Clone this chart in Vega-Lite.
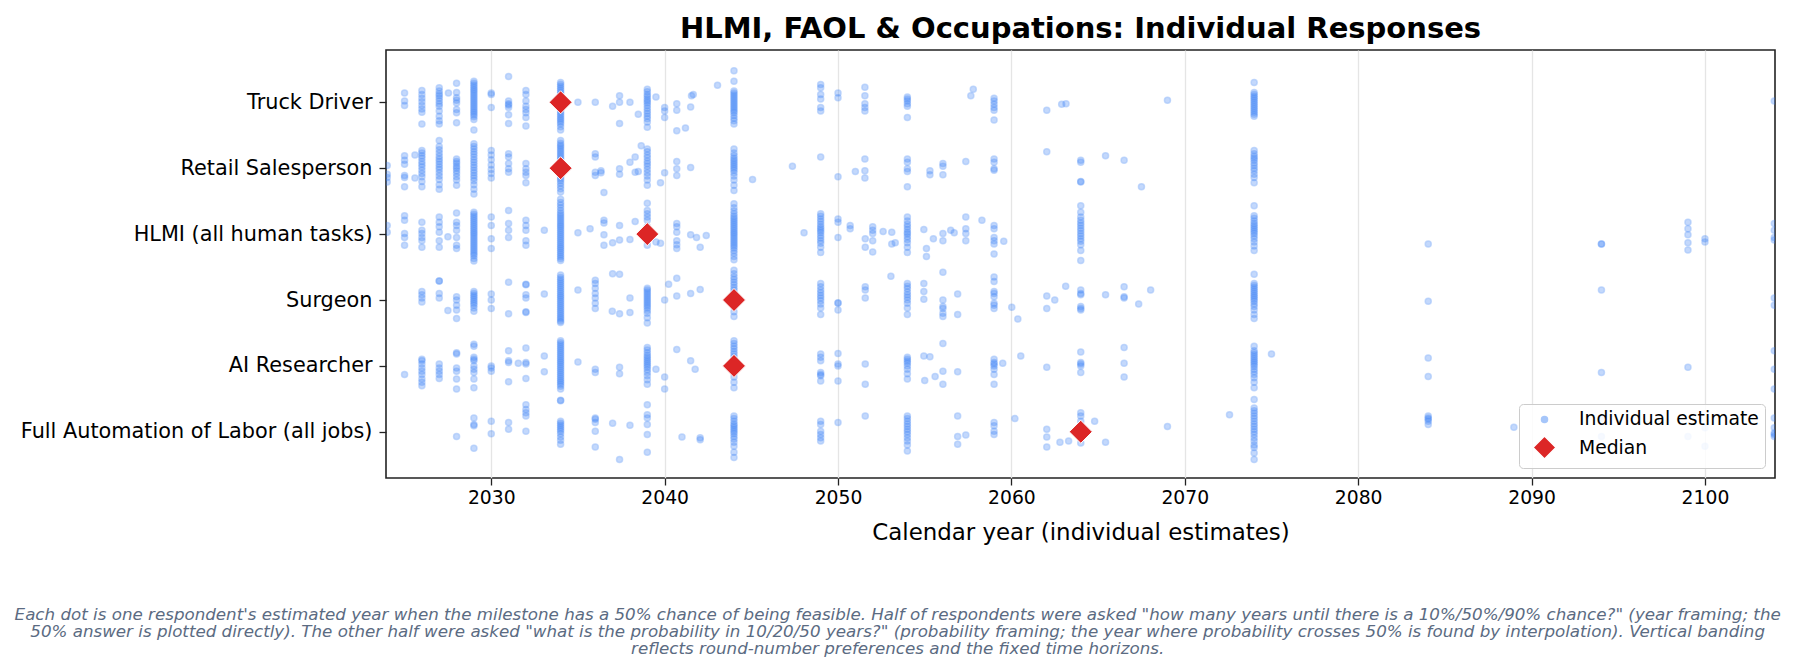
{
"$schema": "https://vega.github.io/schema/vega-lite/v6.json",
"padding": {"left": 14, "top": 14, "right": 10, "bottom": 5},
"config": {
  "font": "DejaVu Sans",
  "view": {"stroke": "#222222", "strokeWidth": 1.6},
  "axis": {"labelFont": "DejaVu Sans", "titleFont": "DejaVu Sans", "labelColor": "#000000", "titleColor": "#000000", "tickColor": "#222222", "tickWidth": 1.3, "tickSize": 7, "domain": false, "titleFontWeight": "normal"},
  "legend": {"orient": "bottom-right", "offset": 10, "fillColor": "rgba(255,255,255,0.85)", "strokeColor": "#cccccc", "cornerRadius": 4, "padding": 6, "symbolOffset": 7, "labelFontSize": 18.75, "labelFont": "DejaVu Sans", "labelColor": "#000000", "labelOffset": 22, "labelLimit": 400, "rowPadding": 3, "symbolStrokeWidth": 1.5}
},
"resolve": {"scale": {"color": "independent", "shape": "independent", "size": "independent", "opacity": "independent", "stroke": "independent"}, "legend": {"color": "independent", "shape": "independent", "size": "independent", "opacity": "independent", "stroke": "independent"}},
"datasets": {
"truck": [
{"x":2025,"j":0.14},{"x":2025,"j":0.02},{"x":2025,"j":-0.05},
{"x":2026,"j":0.18},{"x":2026,"j":0.12},{"x":2026,"j":0.06},{"x":2026,"j":0.01},{"x":2026,"j":-0.05},{"x":2026,"j":-0.10},{"x":2026,"j":-0.15},{"x":2026,"j":-0.33},
{"x":2027,"j":0.22},{"x":2027,"j":0.17},{"x":2027,"j":0.13},{"x":2027,"j":0.10},{"x":2027,"j":0.06},{"x":2027,"j":0.02},{"x":2027,"j":-0.02},{"x":2027,"j":-0.06},{"x":2027,"j":-0.13},{"x":2027,"j":-0.21},{"x":2027,"j":-0.28},{"x":2027,"j":-0.33},
{"x":2027.53,"j":0.14},
{"x":2028,"j":0.29},{"x":2028,"j":0.15},{"x":2028,"j":0.07},{"x":2028,"j":0.03},{"x":2028,"j":-0.01},{"x":2028,"j":-0.11},{"x":2028,"j":-0.16},{"x":2028,"j":-0.31},
{"x":2029,"j":0.32},{"x":2029,"j":0.29},{"x":2029,"j":0.26},{"x":2029,"j":0.23},{"x":2029,"j":0.2},{"x":2029,"j":0.17},{"x":2029,"j":0.14},{"x":2029,"j":0.11},{"x":2029,"j":0.08},{"x":2029,"j":0.05},{"x":2029,"j":0.02},{"x":2029,"j":-0.01},{"x":2029,"j":-0.04},{"x":2029,"j":-0.07},{"x":2029,"j":-0.1},{"x":2029,"j":-0.13},{"x":2029,"j":-0.16},{"x":2029,"j":-0.19},{"x":2029,"j":-0.22},{"x":2029,"j":-0.26},{"x":2029,"j":-0.42},
{"x":2030,"j":0.14},{"x":2030,"j":0.12},{"x":2030,"j":-0.08},
{"x":2031,"j":0.39},{"x":2031,"j":0.02},{"x":2031,"j":-0.02},{"x":2031,"j":-0.04},{"x":2031,"j":-0.08},{"x":2031,"j":-0.19},{"x":2031,"j":-0.32},
{"x":2032,"j":0.18},{"x":2032,"j":0.12},{"x":2032,"j":0.02},{"x":2032,"j":-0.06},{"x":2032,"j":-0.11},{"x":2032,"j":-0.16},{"x":2032,"j":-0.23},{"x":2032,"j":-0.36},
{"x":2034,"j":0.3},{"x":2034,"j":0.27},{"x":2034,"j":0.24},{"x":2034,"j":0.21},{"x":2034,"j":0.18},{"x":2034,"j":0.15},{"x":2034,"j":0.12},{"x":2034,"j":0.09},{"x":2034,"j":0.06},{"x":2034,"j":0.03},{"x":2034,"j":0.0},{"x":2034,"j":-0.03},{"x":2034,"j":-0.06},{"x":2034,"j":-0.09},{"x":2034,"j":-0.12},{"x":2034,"j":-0.15},{"x":2034,"j":-0.18},{"x":2034,"j":-0.21},{"x":2034,"j":-0.24},{"x":2034,"j":-0.27},{"x":2034,"j":-0.3},{"x":2034,"j":-0.33},{"x":2034,"j":-0.37},{"x":2034,"j":-0.42},
{"x":2035,"j":0},{"x":2036,"j":0},{"x":2037,"j":-0.06},
{"x":2037.4,"j":0.1},{"x":2037.4,"j":0},{"x":2037.4,"j":-0.32},
{"x":2038,"j":0},{"x":2038.48,"j":-0.18},
{"x":2039,"j":0.2},{"x":2039,"j":0.16},{"x":2039,"j":0.12},{"x":2039,"j":0.09},{"x":2039,"j":0.05},{"x":2039,"j":0.02},{"x":2039,"j":-0.01},{"x":2039,"j":-0.05},{"x":2039,"j":-0.09},{"x":2039,"j":-0.13},{"x":2039,"j":-0.17},{"x":2039,"j":-0.21},{"x":2039,"j":-0.25},{"x":2039,"j":-0.3},{"x":2039,"j":-0.38},
{"x":2039.5,"j":0.08},
{"x":2040,"j":-0.08},{"x":2040,"j":-0.13},{"x":2040,"j":-0.23},
{"x":2040.7,"j":-0.02},{"x":2040.7,"j":-0.12},{"x":2040.7,"j":-0.43},
{"x":2041.2,"j":-0.39},{"x":2041.5,"j":-0.07},{"x":2041.55,"j":0.1},{"x":2041.65,"j":0.12},
{"x":2043.05,"j":0.26},
{"x":2044,"j":0.48},{"x":2044,"j":0.32},{"x":2044,"j":0.17},{"x":2044,"j":0.14},{"x":2044,"j":0.11},{"x":2044,"j":0.08},{"x":2044,"j":0.05},{"x":2044,"j":0.02},{"x":2044,"j":-0.01},{"x":2044,"j":-0.04},{"x":2044,"j":-0.07},{"x":2044,"j":-0.1},{"x":2044,"j":-0.13},{"x":2044,"j":-0.16},{"x":2044,"j":-0.2},{"x":2044,"j":-0.24},{"x":2044,"j":-0.28},{"x":2044,"j":-0.33},
{"x":2049,"j":0.27},{"x":2049,"j":0.22},{"x":2049,"j":0.12},{"x":2049,"j":0.05},{"x":2049,"j":-0.08},{"x":2049,"j":-0.13},
{"x":2050,"j":0.14},{"x":2050,"j":0.07},
{"x":2051.55,"j":0.23},{"x":2051.55,"j":0.1},{"x":2051.55,"j":-0.02},{"x":2051.55,"j":-0.08},{"x":2051.55,"j":-0.13},
{"x":2054,"j":0.08},{"x":2054,"j":0.05},{"x":2054,"j":0.02},{"x":2054,"j":-0.02},{"x":2054,"j":-0.06},{"x":2054,"j":-0.23},
{"x":2057.66,"j":0.1},{"x":2057.8,"j":0.2},
{"x":2059,"j":0.06},{"x":2059,"j":0.02},{"x":2059,"j":-0.03},{"x":2059,"j":-0.08},{"x":2059,"j":-0.12},{"x":2059,"j":-0.27},
{"x":2062.04,"j":-0.12},{"x":2062.9,"j":-0.03},{"x":2063.15,"j":-0.02},{"x":2069,"j":0.03},
{"x":2074,"j":0.3},{"x":2074,"j":0.15},{"x":2074,"j":0.12},{"x":2074,"j":0.09},{"x":2074,"j":0.06},{"x":2074,"j":0.03},{"x":2074,"j":0.0},{"x":2074,"j":-0.03},{"x":2074,"j":-0.06},{"x":2074,"j":-0.09},{"x":2074,"j":-0.12},{"x":2074,"j":-0.15},{"x":2074,"j":-0.18},{"x":2074,"j":-0.21},
{"x":2104,"j":0.02}
],
"retail": [
{"x":2024,"j":0.04},{"x":2024,"j":-0.09},{"x":2024,"j":-0.14},{"x":2024,"j":-0.21},
{"x":2025,"j":0.19},{"x":2025,"j":0.12},{"x":2025,"j":0.06},{"x":2025,"j":-0.11},{"x":2025,"j":-0.14},{"x":2025,"j":-0.28},
{"x":2025.6,"j":0.2},{"x":2025.6,"j":-0.15},
{"x":2026,"j":0.27},{"x":2026,"j":0.23},{"x":2026,"j":0.19},{"x":2026,"j":0.15},{"x":2026,"j":0.1},{"x":2026,"j":0.06},{"x":2026,"j":0.02},{"x":2026,"j":-0.03},{"x":2026,"j":-0.08},{"x":2026,"j":-0.13},{"x":2026,"j":-0.2},{"x":2026,"j":-0.28},
{"x":2027,"j":0.42},{"x":2027,"j":0.33},{"x":2027,"j":0.28},{"x":2027,"j":0.23},{"x":2027,"j":0.18},{"x":2027,"j":0.14},{"x":2027,"j":0.1},{"x":2027,"j":0.06},{"x":2027,"j":0.02},{"x":2027,"j":-0.02},{"x":2027,"j":-0.07},{"x":2027,"j":-0.12},{"x":2027,"j":-0.17},{"x":2027,"j":-0.25},{"x":2027,"j":-0.32},
{"x":2028,"j":0.14},{"x":2028,"j":0.1},{"x":2028,"j":0.07},{"x":2028,"j":0.03},{"x":2028,"j":0},{"x":2028,"j":-0.04},{"x":2028,"j":-0.08},{"x":2028,"j":-0.13},{"x":2028,"j":-0.18},{"x":2028,"j":-0.26},
{"x":2029,"j":0.37},{"x":2029,"j":0.33},{"x":2029,"j":0.29},{"x":2029,"j":0.25},{"x":2029,"j":0.21},{"x":2029,"j":0.17},{"x":2029,"j":0.13},{"x":2029,"j":0.09},{"x":2029,"j":0.05},{"x":2029,"j":0.01},{"x":2029,"j":-0.03},{"x":2029,"j":-0.07},{"x":2029,"j":-0.11},{"x":2029,"j":-0.15},{"x":2029,"j":-0.19},{"x":2029,"j":-0.25},{"x":2029,"j":-0.32},{"x":2029,"j":-0.39},
{"x":2030,"j":0.27},{"x":2030,"j":0.2},{"x":2030,"j":0.13},{"x":2030,"j":0.05},{"x":2030,"j":-0.02},{"x":2030,"j":-0.08},{"x":2030,"j":-0.15},
{"x":2031,"j":0.22},{"x":2031,"j":0.17},{"x":2031,"j":0.07},{"x":2031,"j":-0.01},{"x":2031,"j":-0.06},
{"x":2032,"j":0.07},{"x":2032,"j":-0.01},{"x":2032,"j":-0.06},{"x":2032,"j":-0.11},{"x":2032,"j":-0.22},
{"x":2034,"j":0.42},{"x":2034,"j":0.38},{"x":2034,"j":0.35},{"x":2034,"j":0.32},{"x":2034,"j":0.29},{"x":2034,"j":0.26},{"x":2034,"j":0.23},{"x":2034,"j":0.2},{"x":2034,"j":0.17},{"x":2034,"j":0.14},{"x":2034,"j":0.11},{"x":2034,"j":0.08},{"x":2034,"j":0.05},{"x":2034,"j":0.02},{"x":2034,"j":-0.01},{"x":2034,"j":-0.04},{"x":2034,"j":-0.07},{"x":2034,"j":-0.1},{"x":2034,"j":-0.13},{"x":2034,"j":-0.16},{"x":2034,"j":-0.19},{"x":2034,"j":-0.23},{"x":2034,"j":-0.27},{"x":2034,"j":-0.31},{"x":2034,"j":-0.36},
{"x":2036,"j":0.22},{"x":2036,"j":0.17},{"x":2036,"j":-0.06},{"x":2036,"j":-0.11},
{"x":2036.33,"j":-0.04},{"x":2036.33,"j":-0.07},{"x":2036.5,"j":-0.37},
{"x":2037.4,"j":-0.01},{"x":2037.4,"j":-0.09},
{"x":2038,"j":0.09},{"x":2038.3,"j":0.17},{"x":2038.3,"j":-0.06},{"x":2038.48,"j":-0.05},{"x":2038.65,"j":0.34},
{"x":2039,"j":0.29},{"x":2039,"j":0.25},{"x":2039,"j":0.2},{"x":2039,"j":0.16},{"x":2039,"j":0.11},{"x":2039,"j":0.07},{"x":2039,"j":0.03},{"x":2039,"j":-0.02},{"x":2039,"j":-0.07},{"x":2039,"j":-0.12},{"x":2039,"j":-0.18},{"x":2039,"j":-0.26},
{"x":2039.76,"j":-0.22},{"x":2040,"j":-0.07},
{"x":2040.7,"j":0.1},{"x":2040.7,"j":-0.01},{"x":2040.7,"j":-0.11},
{"x":2041.5,"j":0.01},
{"x":2044,"j":0.29},{"x":2044,"j":0.23},{"x":2044,"j":0.19},{"x":2044,"j":0.15},{"x":2044,"j":0.12},{"x":2044,"j":0.09},{"x":2044,"j":0.06},{"x":2044,"j":0.03},{"x":2044,"j":0},{"x":2044,"j":-0.03},{"x":2044,"j":-0.07},{"x":2044,"j":-0.12},{"x":2044,"j":-0.18},{"x":2044,"j":-0.26},{"x":2044,"j":-0.34},
{"x":2045.07,"j":-0.17},{"x":2047.37,"j":0.03},{"x":2049,"j":0.17},{"x":2050,"j":-0.13},{"x":2051,"j":-0.05},
{"x":2051.55,"j":0.14},{"x":2051.55,"j":-0.04},{"x":2051.55,"j":-0.15},
{"x":2054,"j":0.14},{"x":2054,"j":0.09},{"x":2054,"j":-0.01},{"x":2054,"j":-0.05},{"x":2054,"j":-0.28},
{"x":2055.3,"j":-0.04},{"x":2055.3,"j":-0.1},
{"x":2056.05,"j":0.07},{"x":2056.05,"j":0.03},{"x":2056.05,"j":-0.1},
{"x":2057.37,"j":0.1},
{"x":2059,"j":0.14},{"x":2059,"j":0.09},{"x":2059,"j":-0.01},{"x":2059,"j":-0.03},
{"x":2062.04,"j":0.25},
{"x":2064,"j":0.12},{"x":2064,"j":0.09},{"x":2064,"j":-0.2},{"x":2064,"j":-0.21},
{"x":2065.43,"j":0.19},{"x":2066.5,"j":0.12},{"x":2067.5,"j":-0.28},
{"x":2074,"j":0.27},{"x":2074,"j":0.22},{"x":2074,"j":0.18},{"x":2074,"j":0.15},{"x":2074,"j":0.12},{"x":2074,"j":0.08},{"x":2074,"j":0.04},{"x":2074,"j":0},{"x":2074,"j":-0.04},{"x":2074,"j":-0.09},{"x":2074,"j":-0.14},{"x":2074,"j":-0.22}
],
"hlmi": [
{"x":2024,"j":0.13},{"x":2024,"j":0.03},
{"x":2025,"j":0.28},{"x":2025,"j":0.21},{"x":2025,"j":0.01},{"x":2025,"j":-0.05},{"x":2025,"j":-0.17},
{"x":2026,"j":0.18},{"x":2026,"j":0.06},{"x":2026,"j":0.01},{"x":2026,"j":-0.05},{"x":2026,"j":-0.1},{"x":2026,"j":-0.2},
{"x":2027,"j":0.26},{"x":2027,"j":0.18},{"x":2027,"j":0.11},{"x":2027,"j":0.03},{"x":2027,"j":-0.1},{"x":2027,"j":-0.2},
{"x":2027.5,"j":-0.04},
{"x":2028,"j":0.32},{"x":2028,"j":0.18},{"x":2028,"j":0.13},{"x":2028,"j":0.06},{"x":2028,"j":-0.05},{"x":2028,"j":-0.17},{"x":2028,"j":-0.22},
{"x":2029,"j":0.33},{"x":2029,"j":0.3},{"x":2029,"j":0.27},{"x":2029,"j":0.24},{"x":2029,"j":0.21},{"x":2029,"j":0.18},{"x":2029,"j":0.15},{"x":2029,"j":0.12},{"x":2029,"j":0.09},{"x":2029,"j":0.06},{"x":2029,"j":0.03},{"x":2029,"j":0},{"x":2029,"j":-0.03},{"x":2029,"j":-0.06},{"x":2029,"j":-0.09},{"x":2029,"j":-0.12},{"x":2029,"j":-0.15},{"x":2029,"j":-0.18},{"x":2029,"j":-0.21},{"x":2029,"j":-0.24},{"x":2029,"j":-0.27},{"x":2029,"j":-0.3},{"x":2029,"j":-0.33},{"x":2029,"j":-0.37},{"x":2029,"j":-0.41},
{"x":2030,"j":0.26},{"x":2030,"j":0.13},{"x":2030,"j":-0.07},{"x":2030,"j":-0.22},
{"x":2031,"j":0.36},{"x":2031,"j":0.16},{"x":2031,"j":0.06},{"x":2031,"j":-0.05},
{"x":2032,"j":0.21},{"x":2032,"j":0.13},{"x":2032,"j":0.06},{"x":2032,"j":-0.1},{"x":2032,"j":-0.17},
{"x":2033.06,"j":0.06},
{"x":2034,"j":0.53},{"x":2034,"j":0.48},{"x":2034,"j":0.44},{"x":2034,"j":0.4},{"x":2034,"j":0.36},{"x":2034,"j":0.32},{"x":2034,"j":0.29},{"x":2034,"j":0.26},{"x":2034,"j":0.23},{"x":2034,"j":0.2},{"x":2034,"j":0.17},{"x":2034,"j":0.14},{"x":2034,"j":0.11},{"x":2034,"j":0.08},{"x":2034,"j":0.05},{"x":2034,"j":0.02},{"x":2034,"j":-0.01},{"x":2034,"j":-0.04},{"x":2034,"j":-0.07},{"x":2034,"j":-0.1},{"x":2034,"j":-0.13},{"x":2034,"j":-0.16},{"x":2034,"j":-0.19},{"x":2034,"j":-0.22},{"x":2034,"j":-0.25},{"x":2034,"j":-0.28},{"x":2034,"j":-0.31},{"x":2034,"j":-0.34},{"x":2034,"j":-0.37},{"x":2034,"j":-0.4},
{"x":2035,"j":0.02},{"x":2035.7,"j":0.08},
{"x":2036.5,"j":0.21},{"x":2036.5,"j":0.17},{"x":2036.5,"j":-0.01},{"x":2036.5,"j":-0.17},
{"x":2037,"j":-0.13},{"x":2037.4,"j":0.13},{"x":2037.4,"j":-0.09},
{"x":2038,"j":-0.08},{"x":2038.3,"j":0.19},
{"x":2039,"j":0.47},{"x":2039,"j":0.36},{"x":2039,"j":0.31},{"x":2039,"j":0.26},{"x":2039,"j":0.21},{"x":2039,"j":0.11},{"x":2039,"j":0.05},{"x":2039,"j":0.01},{"x":2039,"j":-0.05},{"x":2039,"j":-0.1},{"x":2039,"j":-0.17},
{"x":2039.5,"j":-0.12},{"x":2039.76,"j":-0.14},
{"x":2040.7,"j":0.16},{"x":2040.7,"j":0.11},{"x":2040.7,"j":0.03},{"x":2040.7,"j":-0.1},{"x":2040.7,"j":-0.16},{"x":2040.7,"j":-0.22},
{"x":2041.5,"j":-0.01},{"x":2041.84,"j":-0.05},{"x":2042.05,"j":-0.2},{"x":2042.4,"j":-0.02},
{"x":2044,"j":0.46},{"x":2044,"j":0.4},{"x":2044,"j":0.35},{"x":2044,"j":0.31},{"x":2044,"j":0.27},{"x":2044,"j":0.24},{"x":2044,"j":0.21},{"x":2044,"j":0.18},{"x":2044,"j":0.15},{"x":2044,"j":0.12},{"x":2044,"j":0.09},{"x":2044,"j":0.06},{"x":2044,"j":0.03},{"x":2044,"j":0},{"x":2044,"j":-0.03},{"x":2044,"j":-0.06},{"x":2044,"j":-0.09},{"x":2044,"j":-0.12},{"x":2044,"j":-0.15},{"x":2044,"j":-0.18},{"x":2044,"j":-0.21},{"x":2044,"j":-0.25},{"x":2044,"j":-0.29},{"x":2044,"j":-0.34},{"x":2044,"j":-0.39},
{"x":2048.04,"j":0.02},
{"x":2049,"j":0.31},{"x":2049,"j":0.27},{"x":2049,"j":0.23},{"x":2049,"j":0.19},{"x":2049,"j":0.15},{"x":2049,"j":0.11},{"x":2049,"j":0.08},{"x":2049,"j":0.05},{"x":2049,"j":0.02},{"x":2049,"j":-0.02},{"x":2049,"j":-0.06},{"x":2049,"j":-0.1},{"x":2049,"j":-0.14},{"x":2049,"j":-0.2},{"x":2049,"j":-0.28},
{"x":2050,"j":0.23},{"x":2050,"j":0.18},{"x":2050,"j":-0.05},
{"x":2050.7,"j":0.13},{"x":2050.7,"j":0.08},
{"x":2051.57,"j":-0.07},{"x":2051.57,"j":-0.2},
{"x":2052,"j":0.11},{"x":2052,"j":0.06},{"x":2052,"j":0.01},{"x":2052,"j":-0.1},{"x":2052,"j":-0.27},
{"x":2052.6,"j":0.04},{"x":2053.1,"j":0.03},{"x":2053.1,"j":-0.15},{"x":2053.3,"j":-0.13},
{"x":2054,"j":0.26},{"x":2054,"j":0.2},{"x":2054,"j":0.15},{"x":2054,"j":0.11},{"x":2054,"j":0.07},{"x":2054,"j":0.03},{"x":2054,"j":0},{"x":2054,"j":-0.04},{"x":2054,"j":-0.08},{"x":2054,"j":-0.13},{"x":2054,"j":-0.2},{"x":2054,"j":-0.28},
{"x":2054.95,"j":0.07},{"x":2055.1,"j":-0.22},{"x":2055.1,"j":-0.34},{"x":2055.5,"j":-0.07},
{"x":2056.05,"j":0.01},{"x":2056.05,"j":-0.1},{"x":2056.5,"j":0.06},{"x":2056.7,"j":0.02},
{"x":2057.37,"j":0.26},{"x":2057.37,"j":0.08},{"x":2057.37,"j":0.01},{"x":2057.37,"j":-0.1},
{"x":2058.3,"j":0.21},
{"x":2059,"j":0.13},{"x":2059,"j":0.08},{"x":2059,"j":-0.05},{"x":2059,"j":-0.1},{"x":2059,"j":-0.15},{"x":2059,"j":-0.3},
{"x":2059.56,"j":-0.11},
{"x":2064,"j":0.43},{"x":2064,"j":0.33},{"x":2064,"j":0.26},{"x":2064,"j":0.21},{"x":2064,"j":0.17},{"x":2064,"j":0.13},{"x":2064,"j":0.09},{"x":2064,"j":0.05},{"x":2064,"j":0.01},{"x":2064,"j":-0.03},{"x":2064,"j":-0.07},{"x":2064,"j":-0.11},{"x":2064,"j":-0.16},{"x":2064,"j":-0.25},{"x":2064,"j":-0.4},
{"x":2074,"j":0.43},{"x":2074,"j":0.28},{"x":2074,"j":0.24},{"x":2074,"j":0.2},{"x":2074,"j":0.16},{"x":2074,"j":0.13},{"x":2074,"j":0.1},{"x":2074,"j":0.07},{"x":2074,"j":0.04},{"x":2074,"j":0.01},{"x":2074,"j":-0.03},{"x":2074,"j":-0.07},{"x":2074,"j":-0.12},{"x":2074,"j":-0.18},{"x":2074,"j":-0.25},
{"x":2084.04,"j":-0.15},{"x":2094.03,"j":-0.15},{"x":2094.03,"j":-0.15},
{"x":2099.02,"j":0.18},{"x":2099.02,"j":0.08},{"x":2099.02,"j":-0.01},{"x":2099.02,"j":-0.13},{"x":2099.02,"j":-0.24},
{"x":2100,"j":-0.07},{"x":2100,"j":-0.12},
{"x":2104,"j":0.16},{"x":2104,"j":0.06},{"x":2104,"j":-0.05},{"x":2104,"j":-0.09}
],
"surgeon": [
{"x":2026,"j":0.13},{"x":2026,"j":0.08},{"x":2026,"j":0.03},{"x":2026,"j":-0.03},
{"x":2027,"j":0.29},{"x":2027,"j":0.29},{"x":2027,"j":0.1},{"x":2027,"j":0.03},
{"x":2027.5,"j":-0.16},
{"x":2028,"j":0.05},{"x":2028,"j":0},{"x":2028,"j":-0.08},{"x":2028,"j":-0.15},{"x":2028,"j":-0.28},
{"x":2029,"j":0.13},{"x":2029,"j":0.1},{"x":2029,"j":0.07},{"x":2029,"j":0.04},{"x":2029,"j":0.01},{"x":2029,"j":-0.02},{"x":2029,"j":-0.05},{"x":2029,"j":-0.08},{"x":2029,"j":-0.12},{"x":2029,"j":-0.17},
{"x":2030,"j":0.09},{"x":2030,"j":0},{"x":2030,"j":-0.13},
{"x":2031,"j":0.27},{"x":2031,"j":-0.21},
{"x":2032,"j":0.24},{"x":2032,"j":0.23},{"x":2032,"j":0.08},{"x":2032,"j":0.03},{"x":2032,"j":-0.18},{"x":2032,"j":-0.19},
{"x":2033.06,"j":0.09},
{"x":2034,"j":0.38},{"x":2034,"j":0.34},{"x":2034,"j":0.31},{"x":2034,"j":0.28},{"x":2034,"j":0.25},{"x":2034,"j":0.22},{"x":2034,"j":0.19},{"x":2034,"j":0.16},{"x":2034,"j":0.13},{"x":2034,"j":0.1},{"x":2034,"j":0.07},{"x":2034,"j":0.04},{"x":2034,"j":0.01},{"x":2034,"j":-0.02},{"x":2034,"j":-0.05},{"x":2034,"j":-0.08},{"x":2034,"j":-0.11},{"x":2034,"j":-0.14},{"x":2034,"j":-0.17},{"x":2034,"j":-0.2},{"x":2034,"j":-0.23},{"x":2034,"j":-0.26},{"x":2034,"j":-0.29},{"x":2034,"j":-0.32},{"x":2034,"j":-0.34},
{"x":2035,"j":0.15},
{"x":2036,"j":0.3},{"x":2036,"j":0.25},{"x":2036,"j":0.18},{"x":2036,"j":0.1},{"x":2036,"j":0.03},{"x":2036,"j":-0.05},{"x":2036,"j":-0.13},
{"x":2036.98,"j":-0.17},{"x":2037,"j":0.4},{"x":2037.4,"j":0.39},{"x":2037.4,"j":-0.21},
{"x":2038,"j":0.03},{"x":2038,"j":-0.19},
{"x":2039,"j":0.18},{"x":2039,"j":0.15},{"x":2039,"j":0.12},{"x":2039,"j":0.09},{"x":2039,"j":0.06},{"x":2039,"j":0.03},{"x":2039,"j":0},{"x":2039,"j":-0.03},{"x":2039,"j":-0.06},{"x":2039,"j":-0.09},{"x":2039,"j":-0.12},{"x":2039,"j":-0.16},{"x":2039,"j":-0.2},{"x":2039,"j":-0.27},{"x":2039,"j":-0.35},
{"x":2040,"j":0},{"x":2040.23,"j":0.24},{"x":2040.7,"j":0.33},{"x":2040.7,"j":0.06},
{"x":2041.5,"j":0.1},{"x":2042.05,"j":0.16},
{"x":2044,"j":0.45},{"x":2044,"j":0.4},{"x":2044,"j":0.35},{"x":2044,"j":0.31},{"x":2044,"j":0.27},{"x":2044,"j":0.23},{"x":2044,"j":0.19},{"x":2044,"j":0.15},{"x":2044,"j":0.11},{"x":2044,"j":0.07},{"x":2044,"j":0.03},{"x":2044,"j":-0.03},{"x":2044,"j":-0.1},{"x":2044,"j":-0.18},{"x":2044,"j":-0.25},
{"x":2049,"j":0.25},{"x":2049,"j":0.2},{"x":2049,"j":0.15},{"x":2049,"j":0.11},{"x":2049,"j":0.07},{"x":2049,"j":0.03},{"x":2049,"j":-0.01},{"x":2049,"j":-0.06},{"x":2049,"j":-0.12},{"x":2049,"j":-0.22},
{"x":2050,"j":-0.04},{"x":2050,"j":-0.05},{"x":2050,"j":-0.15},
{"x":2051.57,"j":0.2},{"x":2051.57,"j":0.15},{"x":2051.57,"j":0.03},
{"x":2053.05,"j":0.36},
{"x":2054,"j":0.25},{"x":2054,"j":0.21},{"x":2054,"j":0.17},{"x":2054,"j":0.12},{"x":2054,"j":0.08},{"x":2054,"j":0.04},{"x":2054,"j":0},{"x":2054,"j":-0.05},{"x":2054,"j":-0.12},{"x":2054,"j":-0.22},
{"x":2054.95,"j":0.25},{"x":2054.95,"j":0.13},{"x":2054.95,"j":0.01},
{"x":2056.05,"j":0.42},{"x":2056.05,"j":0},{"x":2056.05,"j":-0.1},{"x":2056.05,"j":-0.13},{"x":2056.05,"j":-0.2},{"x":2056.05,"j":-0.25},
{"x":2056.9,"j":0.09},{"x":2056.9,"j":-0.22},
{"x":2059,"j":0.35},{"x":2059,"j":0.28},{"x":2059,"j":0.13},{"x":2059,"j":0.1},{"x":2059,"j":0.05},{"x":2059,"j":-0.05},{"x":2059,"j":-0.08},{"x":2059,"j":-0.13},
{"x":2060.02,"j":-0.11},{"x":2060.37,"j":-0.29},
{"x":2062.04,"j":0.06},{"x":2062.04,"j":-0.13},{"x":2062.5,"j":0},{"x":2063.13,"j":0.21},
{"x":2064,"j":0.15},{"x":2064,"j":0.1},{"x":2064,"j":0.08},{"x":2064,"j":-0.1},{"x":2064,"j":-0.13},{"x":2064,"j":-0.15},
{"x":2065.43,"j":0.08},
{"x":2066.5,"j":0.2},{"x":2066.5,"j":0.05},{"x":2066.5,"j":0.03},
{"x":2067.34,"j":-0.06},{"x":2068.03,"j":0.15},
{"x":2074,"j":0.39},{"x":2074,"j":0.25},{"x":2074,"j":0.22},{"x":2074,"j":0.19},{"x":2074,"j":0.16},{"x":2074,"j":0.13},{"x":2074,"j":0.1},{"x":2074,"j":0.07},{"x":2074,"j":0.04},{"x":2074,"j":0.01},{"x":2074,"j":-0.02},{"x":2074,"j":-0.06},{"x":2074,"j":-0.1},{"x":2074,"j":-0.15},{"x":2074,"j":-0.22},{"x":2074,"j":-0.28},
{"x":2084.04,"j":-0.02},{"x":2094.03,"j":0.15},
{"x":2104,"j":0.03},{"x":2104,"j":-0.08}
],
"ai": [
{"x":2025,"j":-0.13},
{"x":2026,"j":0.1},{"x":2026,"j":0.08},{"x":2026,"j":0.03},{"x":2026,"j":-0.03},{"x":2026,"j":-0.08},{"x":2026,"j":-0.13},{"x":2026,"j":-0.2},{"x":2026,"j":-0.25},{"x":2026,"j":-0.3},
{"x":2027,"j":0.03},{"x":2027,"j":-0.03},{"x":2027,"j":-0.08},{"x":2027,"j":-0.13},{"x":2027,"j":-0.19},
{"x":2028,"j":0.2},{"x":2028,"j":0.18},{"x":2028,"j":-0.03},{"x":2028,"j":-0.08},{"x":2028,"j":-0.2},{"x":2028,"j":-0.35},
{"x":2029,"j":0.33},{"x":2029,"j":0.3},{"x":2029,"j":0.13},{"x":2029,"j":0.1},{"x":2029,"j":0.08},{"x":2029,"j":0},{"x":2029,"j":-0.05},{"x":2029,"j":-0.1},{"x":2029,"j":-0.2},{"x":2029,"j":-0.33},
{"x":2030,"j":0},{"x":2030,"j":-0.03},{"x":2030,"j":-0.08},
{"x":2031,"j":0.23},{"x":2031,"j":0.08},{"x":2031,"j":0.05},{"x":2031,"j":-0.24},
{"x":2031.56,"j":0.04},
{"x":2032,"j":0.27},{"x":2032,"j":0.05},{"x":2032,"j":0.03},{"x":2032,"j":-0.19},
{"x":2033.06,"j":0.15},{"x":2033.06,"j":-0.09},
{"x":2034,"j":0.38},{"x":2034,"j":0.35},{"x":2034,"j":0.32},{"x":2034,"j":0.29},{"x":2034,"j":0.26},{"x":2034,"j":0.23},{"x":2034,"j":0.2},{"x":2034,"j":0.17},{"x":2034,"j":0.14},{"x":2034,"j":0.11},{"x":2034,"j":0.08},{"x":2034,"j":0.05},{"x":2034,"j":0.02},{"x":2034,"j":-0.01},{"x":2034,"j":-0.04},{"x":2034,"j":-0.07},{"x":2034,"j":-0.1},{"x":2034,"j":-0.13},{"x":2034,"j":-0.16},{"x":2034,"j":-0.19},{"x":2034,"j":-0.22},{"x":2034,"j":-0.25},{"x":2034,"j":-0.28},{"x":2034,"j":-0.31},{"x":2034,"j":-0.35},{"x":2034,"j":-0.52},
{"x":2035,"j":0.06},
{"x":2036,"j":-0.05},{"x":2036,"j":-0.1},
{"x":2037.4,"j":-0.02},{"x":2037.4,"j":-0.12},
{"x":2039,"j":0.28},{"x":2039,"j":0.24},{"x":2039,"j":0.2},{"x":2039,"j":0.16},{"x":2039,"j":0.13},{"x":2039,"j":0.1},{"x":2039,"j":0.07},{"x":2039,"j":0.04},{"x":2039,"j":0.01},{"x":2039,"j":-0.02},{"x":2039,"j":-0.06},{"x":2039,"j":-0.1},{"x":2039,"j":-0.15},{"x":2039,"j":-0.21},{"x":2039,"j":-0.28},
{"x":2039.5,"j":-0.05},
{"x":2040,"j":-0.17},{"x":2040,"j":-0.35},
{"x":2040.7,"j":0.25},{"x":2041.5,"j":0.08},{"x":2041.76,"j":-0.05},
{"x":2044,"j":0.38},{"x":2044,"j":0.34},{"x":2044,"j":0.3},{"x":2044,"j":0.26},{"x":2044,"j":0.22},{"x":2044,"j":0.18},{"x":2044,"j":0.14},{"x":2044,"j":0.1},{"x":2044,"j":0.06},{"x":2044,"j":0.02},{"x":2044,"j":-0.04},{"x":2044,"j":-0.1},{"x":2044,"j":-0.17},{"x":2044,"j":-0.25},{"x":2044,"j":-0.33},
{"x":2049,"j":0.18},{"x":2049,"j":0.13},{"x":2049,"j":0.08},{"x":2049,"j":-0.1},{"x":2049,"j":-0.13},{"x":2049,"j":-0.15},{"x":2049,"j":-0.23},
{"x":2050,"j":0.19},{"x":2050,"j":0.03},{"x":2050,"j":0},{"x":2050,"j":-0.23},
{"x":2051.57,"j":0.03},{"x":2051.57,"j":-0.28},
{"x":2054,"j":0.13},{"x":2054,"j":0.1},{"x":2054,"j":0.07},{"x":2054,"j":0.04},{"x":2054,"j":0},{"x":2054,"j":-0.05},{"x":2054,"j":-0.12},{"x":2054,"j":-0.2},
{"x":2054.95,"j":0.15},{"x":2055,"j":-0.22},{"x":2055.3,"j":0.14},{"x":2055.6,"j":-0.16},
{"x":2056.05,"j":0.34},{"x":2056.05,"j":-0.08},{"x":2056.05,"j":-0.28},
{"x":2056.9,"j":-0.09},
{"x":2059,"j":0.1},{"x":2059,"j":0.05},{"x":2059,"j":0.03},{"x":2059,"j":0},{"x":2059,"j":-0.05},{"x":2059,"j":-0.13},{"x":2059,"j":-0.28},
{"x":2059.5,"j":0.04},{"x":2060.54,"j":0.15},{"x":2062.04,"j":-0.02},
{"x":2064,"j":0.21},{"x":2064,"j":0.05},{"x":2064,"j":0.03},{"x":2064,"j":0},{"x":2064,"j":-0.1},
{"x":2066.5,"j":0.28},{"x":2066.5,"j":0.04},{"x":2066.5,"j":-0.17},
{"x":2074,"j":0.3},{"x":2074,"j":0.23},{"x":2074,"j":0.2},{"x":2074,"j":0.17},{"x":2074,"j":0.14},{"x":2074,"j":0.11},{"x":2074,"j":0.08},{"x":2074,"j":0.05},{"x":2074,"j":0.02},{"x":2074,"j":-0.01},{"x":2074,"j":-0.05},{"x":2074,"j":-0.09},{"x":2074,"j":-0.13},{"x":2074,"j":-0.18},{"x":2074,"j":-0.25},{"x":2074,"j":-0.33},
{"x":2075,"j":0.18},
{"x":2084.04,"j":0.12},{"x":2084.04,"j":-0.16},
{"x":2094.03,"j":-0.1},{"x":2099.02,"j":-0.02},
{"x":2104,"j":0.23},{"x":2104,"j":-0.05},{"x":2104,"j":-0.35}
],
"faol": [
{"x":2028,"j":-0.07},
{"x":2029,"j":0.21},{"x":2029,"j":0.11},{"x":2029,"j":0.09},{"x":2029,"j":-0.25},
{"x":2030,"j":0.16},{"x":2030,"j":-0.03},
{"x":2031,"j":0.14},{"x":2031,"j":0.04},
{"x":2032,"j":0.41},{"x":2032,"j":0.34},{"x":2032,"j":0.29},{"x":2032,"j":0.24},{"x":2032,"j":0.01},
{"x":2034,"j":0.47},{"x":2034,"j":0.16},{"x":2034,"j":0.13},{"x":2034,"j":0.1},{"x":2034,"j":0.07},{"x":2034,"j":0.04},{"x":2034,"j":0.01},{"x":2034,"j":-0.03},{"x":2034,"j":-0.08},{"x":2034,"j":-0.13},{"x":2034,"j":-0.19},
{"x":2036,"j":0.21},{"x":2036,"j":0.19},{"x":2036,"j":0.14},{"x":2036,"j":0.01},{"x":2036,"j":-0.23},
{"x":2037,"j":0.13},{"x":2037.4,"j":-0.42},{"x":2038,"j":0.1},
{"x":2039,"j":0.41},{"x":2039,"j":0.26},{"x":2039,"j":0.21},{"x":2039,"j":0.11},{"x":2039,"j":-0.04},{"x":2039,"j":-0.31},
{"x":2041,"j":-0.08},{"x":2042.05,"j":-0.09},{"x":2042.05,"j":-0.12},
{"x":2044,"j":0.24},{"x":2044,"j":0.2},{"x":2044,"j":0.16},{"x":2044,"j":0.12},{"x":2044,"j":0.09},{"x":2044,"j":0.06},{"x":2044,"j":0.03},{"x":2044,"j":0},{"x":2044,"j":-0.03},{"x":2044,"j":-0.07},{"x":2044,"j":-0.11},{"x":2044,"j":-0.16},{"x":2044,"j":-0.22},{"x":2044,"j":-0.31},{"x":2044,"j":-0.39},
{"x":2049,"j":0.16},{"x":2049,"j":0.11},{"x":2049,"j":0.01},{"x":2049,"j":-0.04},{"x":2049,"j":-0.09},{"x":2049,"j":-0.14},
{"x":2050,"j":0.14},{"x":2051.57,"j":0.24},
{"x":2054,"j":0.24},{"x":2054,"j":0.2},{"x":2054,"j":0.16},{"x":2054,"j":0.12},{"x":2054,"j":0.08},{"x":2054,"j":0.04},{"x":2054,"j":0},{"x":2054,"j":-0.04},{"x":2054,"j":-0.09},{"x":2054,"j":-0.14},{"x":2054,"j":-0.2},{"x":2054,"j":-0.29},
{"x":2056.9,"j":0.24},{"x":2056.9,"j":-0.07},{"x":2056.9,"j":-0.19},
{"x":2057.37,"j":-0.05},
{"x":2059,"j":0.14},{"x":2059,"j":0.09},{"x":2059,"j":0.01},{"x":2059,"j":-0.04},
{"x":2060.2,"j":0.2},
{"x":2062.04,"j":0.04},{"x":2062.04,"j":-0.08},{"x":2062.04,"j":-0.23},
{"x":2062.8,"j":-0.16},{"x":2063.3,"j":-0.14},
{"x":2064,"j":0.29},{"x":2064,"j":0.24},{"x":2064,"j":0.16},{"x":2064,"j":-0.17},
{"x":2064.8,"j":0.16},{"x":2065.43,"j":-0.16},{"x":2069,"j":0.08},{"x":2072.58,"j":0.26},
{"x":2074,"j":0.49},{"x":2074,"j":0.36},{"x":2074,"j":0.32},{"x":2074,"j":0.28},{"x":2074,"j":0.24},{"x":2074,"j":0.2},{"x":2074,"j":0.16},{"x":2074,"j":0.12},{"x":2074,"j":0.08},{"x":2074,"j":0.04},{"x":2074,"j":0},{"x":2074,"j":-0.04},{"x":2074,"j":-0.09},{"x":2074,"j":-0.14},{"x":2074,"j":-0.2},{"x":2074,"j":-0.24},{"x":2074,"j":-0.32},{"x":2074,"j":-0.42},
{"x":2084.04,"j":0.24},{"x":2084.04,"j":0.21},{"x":2084.04,"j":0.19},{"x":2084.04,"j":0.16},{"x":2084.04,"j":0.11},
{"x":2088.98,"j":0.07},
{"x":2094.03,"j":0.21},{"x":2094.03,"j":-0.07},
{"x":2099.02,"j":-0.07},
{"x":2100,"j":0.06},{"x":2100,"j":-0.22},
{"x":2104,"j":0.21},{"x":2104,"j":0.06},{"x":2104,"j":-0.02},{"x":2104,"j":-0.04},{"x":2104,"j":-0.07}
],
"medians": [
{"k":"Truck Driver","x":2034},
{"k":"Retail Salesperson","x":2034},
{"k":"HLMI (all human tasks)","x":2039},
{"k":"Surgeon","x":2044},
{"k":"AI Researcher","x":2044},
{"k":"Full Automation of Labor (all jobs)","x":2064}
]
},
"title": {
  "text": [
    "Each dot is one respondent's estimated year when the milestone has a 50% chance of being feasible. Half of respondents were asked \"how many years until there is a 10%/50%/90% chance?\" (year framing; the",
    "50% answer is plotted directly). The other half were asked \"what is the probability in 10/20/50 years?\" (probability framing; the year where probability crosses 50% is found by interpolation). Vertical banding",
    "reflects round-number preferences and the fixed time horizons."
  ],
  "orient": "bottom", "anchor": "middle", "frame": "bounds",
  "font": "DejaVu Sans", "fontSize": 16.7, "fontStyle": "italic", "fontWeight": "normal",
  "color": "#5b6b82", "lineHeight": 17, "offset": 62
},
"vconcat": [
{
  "width": 1389,
  "height": 428,
  "title": {"text": "HLMI, FAOL & Occupations: Individual Responses", "anchor": "middle", "frame": "group", "font": "DejaVu Sans", "fontSize": 29, "fontWeight": "bold", "color": "#000000", "offset": 6},
  "layer": [
    {
      "data": {"name": "truck"},
      "mark": {"type": "point", "filled": true, "fillOpacity": 0.67, "strokeOpacity": 0.67, "strokeWidth": 1.5, "clip": true},
      "encoding": {
        "x": {"field": "x", "type": "quantitative",
              "scale": {"domain": [2023.93, 2104.04], "nice": false, "zero": false},
              "axis": {"values": [2030, 2040, 2050, 2060, 2070, 2080, 2090, 2100], "format": "d", "title": "Calendar year (individual estimates)", "labelFontSize": 18.75, "titleFontSize": 22.9, "grid": true, "gridColor": "#e5e5e5", "gridWidth": 1.3, "labelPadding": 3, "titlePadding": 15}},
        "y": {"datum": "Truck Driver", "type": "nominal",
              "scale": {"type": "point", "domain": ["Truck Driver", "Retail Salesperson", "HLMI (all human tasks)", "Surgeon", "AI Researcher", "Full Automation of Labor (all jobs)"], "padding": 0.7475, "align": 0.531},
              "axis": {"title": null, "labelFontSize": 20.8, "grid": false, "labelPadding": 7, "labelLimit": 600}},
        "yOffset": {"field": "j", "type": "quantitative", "scale": {"domain": [-1, 1], "range": [65.9, -65.9]}},
        "color": {"datum": "Individual estimate", "type": "nominal", "scale": {"domain": ["Individual estimate", "Median"], "range": ["#3b82f6", "#dc2626"]}, "legend": {"title": null}},
        "shape": {"datum": "Individual estimate", "type": "nominal", "scale": {"domain": ["Individual estimate", "Median"], "range": ["circle", "diamond"]}, "legend": {"title": null}},
        "size": {"datum": "Individual estimate", "type": "nominal", "scale": {"domain": ["Individual estimate", "Median"], "range": [36, 529]}, "legend": {"title": null}},
        "opacity": {"datum": "Individual estimate", "type": "nominal", "scale": {"domain": ["Individual estimate", "Median"], "range": [0.45, 1]}, "legend": {"title": null}},
        "stroke": {"datum": "Individual estimate", "type": "nominal", "scale": {"domain": ["Individual estimate", "Median"], "range": ["#3b82f6", "#ffffff"]}, "legend": {"title": null}}
      }
    },
    {
      "data": {"name": "retail"},
      "mark": {"type": "point", "filled": true, "fillOpacity": 0.67, "strokeOpacity": 0.67, "strokeWidth": 1.5, "clip": true},
      "encoding": {"x": {"field": "x", "type": "quantitative"}, "y": {"datum": "Retail Salesperson", "type": "nominal"}, "yOffset": {"field": "j", "type": "quantitative", "scale": {"domain": [-1, 1], "range": [65.9, -65.9]}}, "color": {"datum": "Individual estimate", "type": "nominal"}, "shape": {"datum": "Individual estimate", "type": "nominal"}, "size": {"datum": "Individual estimate", "type": "nominal"}, "opacity": {"datum": "Individual estimate", "type": "nominal"}, "stroke": {"datum": "Individual estimate", "type": "nominal"}}
    },
    {
      "data": {"name": "hlmi"},
      "mark": {"type": "point", "filled": true, "fillOpacity": 0.67, "strokeOpacity": 0.67, "strokeWidth": 1.5, "clip": true},
      "encoding": {"x": {"field": "x", "type": "quantitative"}, "y": {"datum": "HLMI (all human tasks)", "type": "nominal"}, "yOffset": {"field": "j", "type": "quantitative", "scale": {"domain": [-1, 1], "range": [65.9, -65.9]}}, "color": {"datum": "Individual estimate", "type": "nominal"}, "shape": {"datum": "Individual estimate", "type": "nominal"}, "size": {"datum": "Individual estimate", "type": "nominal"}, "opacity": {"datum": "Individual estimate", "type": "nominal"}, "stroke": {"datum": "Individual estimate", "type": "nominal"}}
    },
    {
      "data": {"name": "surgeon"},
      "mark": {"type": "point", "filled": true, "fillOpacity": 0.67, "strokeOpacity": 0.67, "strokeWidth": 1.5, "clip": true},
      "encoding": {"x": {"field": "x", "type": "quantitative"}, "y": {"datum": "Surgeon", "type": "nominal"}, "yOffset": {"field": "j", "type": "quantitative", "scale": {"domain": [-1, 1], "range": [65.9, -65.9]}}, "color": {"datum": "Individual estimate", "type": "nominal"}, "shape": {"datum": "Individual estimate", "type": "nominal"}, "size": {"datum": "Individual estimate", "type": "nominal"}, "opacity": {"datum": "Individual estimate", "type": "nominal"}, "stroke": {"datum": "Individual estimate", "type": "nominal"}}
    },
    {
      "data": {"name": "ai"},
      "mark": {"type": "point", "filled": true, "fillOpacity": 0.67, "strokeOpacity": 0.67, "strokeWidth": 1.5, "clip": true},
      "encoding": {"x": {"field": "x", "type": "quantitative"}, "y": {"datum": "AI Researcher", "type": "nominal"}, "yOffset": {"field": "j", "type": "quantitative", "scale": {"domain": [-1, 1], "range": [65.9, -65.9]}}, "color": {"datum": "Individual estimate", "type": "nominal"}, "shape": {"datum": "Individual estimate", "type": "nominal"}, "size": {"datum": "Individual estimate", "type": "nominal"}, "opacity": {"datum": "Individual estimate", "type": "nominal"}, "stroke": {"datum": "Individual estimate", "type": "nominal"}}
    },
    {
      "data": {"name": "faol"},
      "mark": {"type": "point", "filled": true, "fillOpacity": 0.67, "strokeOpacity": 0.67, "strokeWidth": 1.5, "clip": true},
      "encoding": {"x": {"field": "x", "type": "quantitative"}, "y": {"datum": "Full Automation of Labor (all jobs)", "type": "nominal"}, "yOffset": {"field": "j", "type": "quantitative", "scale": {"domain": [-1, 1], "range": [65.9, -65.9]}}, "color": {"datum": "Individual estimate", "type": "nominal"}, "shape": {"datum": "Individual estimate", "type": "nominal"}, "size": {"datum": "Individual estimate", "type": "nominal"}, "opacity": {"datum": "Individual estimate", "type": "nominal"}, "stroke": {"datum": "Individual estimate", "type": "nominal"}}
    },
    {
      "data": {"name": "medians"},
      "mark": {"type": "point", "filled": true, "strokeWidth": 1, "clip": true},
      "encoding": {"x": {"field": "x", "type": "quantitative"}, "y": {"field": "k", "type": "nominal"}, "color": {"datum": "Median", "type": "nominal"}, "shape": {"datum": "Median", "type": "nominal"}, "size": {"datum": "Median", "type": "nominal"}, "opacity": {"datum": "Median", "type": "nominal"}, "stroke": {"datum": "Median", "type": "nominal"}}
    }
  ]
}
]
}
